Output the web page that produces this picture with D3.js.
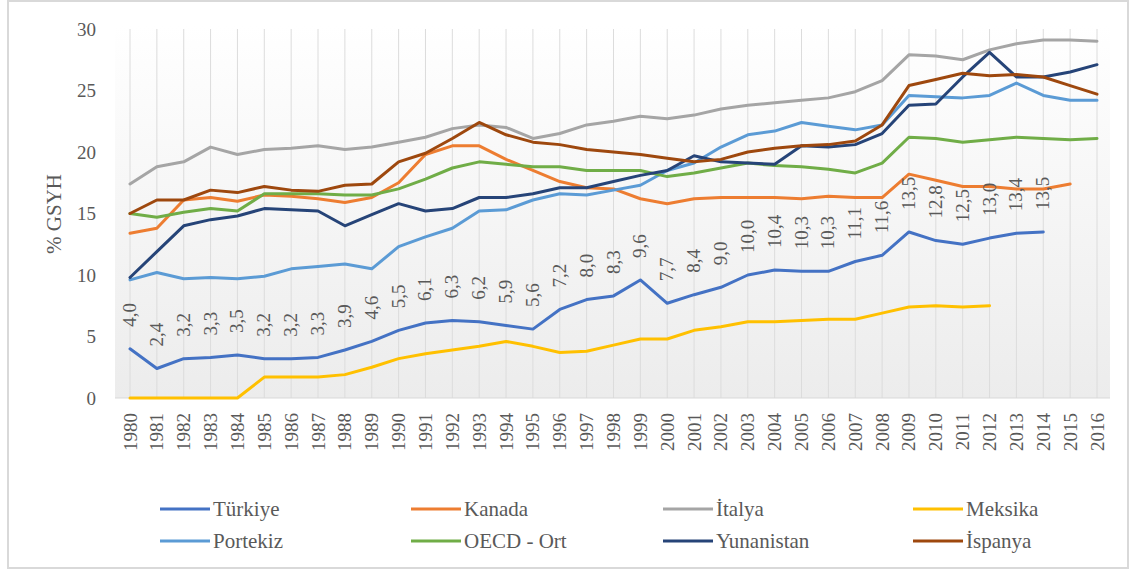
<!DOCTYPE html>
<html>
<head>
<meta charset="utf-8">
<script src="https://cdn.jsdelivr.net/npm/d3@7"></script>
<style>
  body { margin: 0; background: #fff; }
</style>
</head>
<body>
<svg id="chart" width="1131" height="571"></svg>
<script>
const years = d3.range(1980, 2017)
const yTicks = [0, 5, 10, 15, 20, 25, 30]

const turkiye = [4.0, 2.4, 3.2, 3.3, 3.5, 3.2, 3.2, 3.3, 3.9, 4.6, 5.5, 6.1, 6.3, 6.2, 5.9, 5.6, 7.2, 8.0, 8.3, 9.6, 7.7, 8.4, 9.0, 10.0, 10.4, 10.3, 10.3, 11.1, 11.6, 13.5, 12.8, 12.5, 13.0, 13.4, 13.5, null, null]
const kanada = [13.4, 13.8, 16.1, 16.3, 16.0, 16.5, 16.4, 16.2, 15.9, 16.3, 17.5, 19.8, 20.5, 20.5, 19.4, 18.5, 17.6, 17.1, 17.0, 16.2, 15.8, 16.2, 16.3, 16.3, 16.3, 16.2, 16.4, 16.3, 16.3, 18.2, 17.7, 17.2, 17.2, 17.0, 17.0, 17.4, null]
const italya = [17.4, 18.8, 19.2, 20.4, 19.8, 20.2, 20.3, 20.5, 20.2, 20.4, 20.8, 21.2, 21.9, 22.2, 22.0, 21.1, 21.5, 22.2, 22.5, 22.9, 22.7, 23.0, 23.5, 23.8, 24.0, 24.2, 24.4, 24.9, 25.8, 27.9, 27.8, 27.5, 28.3, 28.8, 29.1, 29.1, 29.0]
const meksika = [0, 0, 0, 0, 0, 1.7, 1.7, 1.7, 1.9, 2.5, 3.2, 3.6, 3.9, 4.2, 4.6, 4.2, 3.7, 3.8, 4.3, 4.8, 4.8, 5.5, 5.8, 6.2, 6.2, 6.3, 6.4, 6.4, 6.9, 7.4, 7.5, 7.4, 7.5, null, null, null, null]
const portekiz = [9.6, 10.2, 9.7, 9.8, 9.7, 9.9, 10.5, 10.7, 10.9, 10.5, 12.3, 13.1, 13.8, 15.2, 15.3, 16.1, 16.6, 16.5, 16.9, 17.3, 18.5, 19.1, 20.4, 21.4, 21.7, 22.4, 22.1, 21.8, 22.2, 24.6, 24.5, 24.4, 24.6, 25.6, 24.6, 24.2, 24.2]
const oecd = [15.0, 14.7, 15.1, 15.4, 15.2, 16.6, 16.6, 16.6, 16.5, 16.5, 17.0, 17.8, 18.7, 19.2, 19.0, 18.8, 18.8, 18.5, 18.5, 18.5, 18.0, 18.3, 18.7, 19.1, 18.9, 18.8, 18.6, 18.3, 19.1, 21.2, 21.1, 20.8, 21.0, 21.2, 21.1, 21.0, 21.1]
const yunanistan = [9.8, 11.9, 14.0, 14.5, 14.8, 15.4, 15.3, 15.2, 14.0, 14.9, 15.8, 15.2, 15.4, 16.3, 16.3, 16.6, 17.1, 17.1, 17.6, 18.1, 18.5, 19.7, 19.2, 19.1, 19.0, 20.5, 20.4, 20.6, 21.5, 23.8, 23.9, 26.1, 28.1, 26.1, 26.1, 26.5, 27.1]
const ispanya = [15.0, 16.1, 16.1, 16.9, 16.7, 17.2, 16.9, 16.8, 17.3, 17.4, 19.2, 19.9, 21.1, 22.4, 21.4, 20.8, 20.6, 20.2, 20.0, 19.8, 19.5, 19.2, 19.4, 20.0, 20.3, 20.5, 20.6, 20.9, 22.2, 25.4, 25.9, 26.4, 26.2, 26.3, 26.1, 25.4, 24.7]

const seriesNames = ["Türkiye", "Kanada", "İtalya", "Meksika", "Portekiz", "OECD - Ort", "Yunanistan", "İspanya"]
const seriesValues = [turkiye, kanada, italya, meksika, portekiz, oecd, yunanistan, ispanya]
const colors = ["#4472c4", "#ed7d31", "#a5a5a5", "#ffc000", "#5b9bd5", "#70ad47", "#264478", "#9e480e"]

const serif = "'Liberation Serif', 'Times New Roman', serif"
const textColor = "#595959"

const svg = d3.select("#chart")

// outer frame
svg.append("rect")
    .attr("x", 8).attr("y", 1).attr("width", 1120).attr("height", 567)
    .attr("fill", "#fff").attr("stroke", "#d9d9d9").attr("stroke-width", 2)

const x = d3.scalePoint().domain(years).range([130, 1097])
const y = d3.scaleLinear().domain([0, 30]).range([398, 29])

// plot area gradient
const grad = svg.append("defs").append("linearGradient")
    .attr("id", "bg").attr("x1", 0).attr("y1", 0).attr("x2", 0).attr("y2", 1)
grad.append("stop").attr("offset", "0%").attr("stop-color", "#ffffff")
grad.append("stop").attr("offset", "100%").attr("stop-color", "#ececec")

svg.append("rect")
    .attr("x", 115).attr("y", 25).attr("width", 995).attr("height", 373)
    .attr("fill", "url(#bg)")

// vertical gridlines
svg.append("g").selectAll("line").data(years).enter().append("line")
    .attr("x1", d => x(d)).attr("x2", d => x(d))
    .attr("y1", y(30)).attr("y2", y(0))
    .attr("stroke", "#dcdcdc").attr("stroke-width", 1)

svg.append("line")
    .attr("x1", 115).attr("x2", 1110).attr("y1", y(0)).attr("y2", y(0))
    .attr("stroke", "#d9d9d9")

// y axis labels
const yAxis = svg.append("g")
    .attr("transform", "translate(96,0)")
    .call(d3.axisLeft(y).tickValues(yTicks).tickSize(0).tickPadding(0))
yAxis.select(".domain").remove()
yAxis.selectAll("text")
    .style("font-size", "19px").style("fill", textColor).style("font-family", serif)

// x axis labels
const xAxis = svg.append("g")
    .attr("transform", `translate(0,${y(0)})`)
    .call(d3.axisBottom(x).tickSize(0).tickPadding(0))
xAxis.select(".domain").remove()
xAxis.selectAll("text")
    .style("font-size", "19px").style("fill", textColor).style("font-family", serif)
    .attr("text-anchor", "end")
    .attr("dy", null)
    .attr("y", 0)
    .attr("transform", "translate(6,15) rotate(-90)")

svg.append("text")
    .attr("transform", "translate(61,214) rotate(-90)")
    .attr("text-anchor", "middle")
    .style("font-size", "21px").style("fill", textColor).style("font-family", serif)
    .text("% GSYH")

// series lines
const line = d3.line()
    .defined(d => d.v !== null)
    .x(d => x(d.year))
    .y(d => y(d.v))

seriesValues.forEach((vals, i) => {
    const pts = years.map((yr, j) => ({ year: yr, v: vals[j] }))
    svg.append("path")
        .datum(pts)
        .attr("d", line)
        .attr("fill", "none")
        .attr("stroke", colors[i])
        .attr("stroke-width", 3)
        .attr("stroke-linejoin", "round")
        .attr("stroke-linecap", "round")
})

// Türkiye data labels
svg.append("g").selectAll("text")
    .data(years.map((yr, j) => ({ year: yr, v: turkiye[j] })).filter(d => d.v !== null))
    .enter().append("text")
    .attr("transform", d => `translate(${x(d.year) + 6},${y(d.v) - 22}) rotate(-90)`)
    .style("font-size", "19px").style("fill", textColor).style("font-family", serif)
    .text(d => d.v.toFixed(1).replace(".", ","))

// legend
const legendX = [160, 411, 663, 913]
const legendY = [509, 541]
const legend = svg.append("g").selectAll("g").data(seriesNames).enter().append("g")
    .attr("transform", (d, i) => `translate(${legendX[i % 4]},${legendY[Math.floor(i / 4)]})`)
legend.append("line")
    .attr("x1", 0).attr("x2", 50).attr("y1", 0).attr("y2", 0)
    .attr("stroke", (d, i) => colors[i]).attr("stroke-width", 3)
legend.append("text")
    .attr("x", 53).attr("y", 7)
    .style("font-size", "21px").style("fill", textColor).style("font-family", serif)
    .text(d => d)
</script>
</body>
</html>
